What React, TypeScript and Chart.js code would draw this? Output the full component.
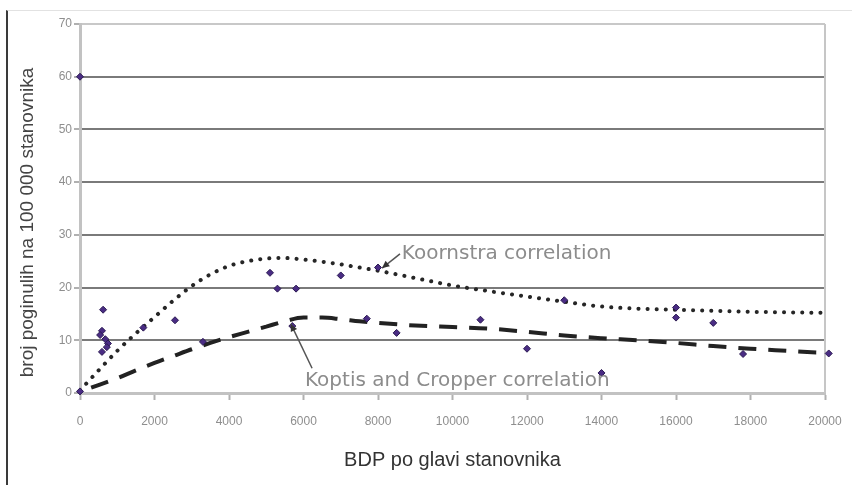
import { useEffect, useRef } from "react";
import { Chart, registerables } from "chart.js";

Chart.register(...registerables);

// ---- data ----
const xTicks = [0, 2000, 4000, 6000, 8000, 10000, 12000, 14000, 16000, 18000, 20000];
const yTicks = [0, 10, 20, 30, 40, 50, 60, 70];

const koornstraX = [0, 500, 1000, 1500, 2000, 2500, 3000, 3500, 4000, 4500, 5000, 5500, 6000, 6500, 7000, 7500, 8000, 9000, 10000, 11000, 12000, 13000, 14000, 15000, 16000, 17000, 18000, 19000, 20000];
const koornstraY = [0.5, 4.3, 8, 11.3, 14.4, 17.5, 20.3, 22.5, 24.1, 25, 25.5, 25.6, 25.3, 24.9, 24.4, 23.8, 23.2, 21.8, 20.4, 19.3, 18.3, 17.3, 16.4, 16, 15.8, 15.6, 15.4, 15.3, 15.2];

const kopitsX = [300, 1000, 1500, 2000, 2500, 3000, 3500, 4000, 4500, 5000, 5500, 6000, 6500, 7000, 7500, 8000, 9000, 10000, 11000, 12000, 13000, 14000, 15000, 16000, 17000, 18000, 19000, 20000];
const kopitsY = [1, 2.8, 4.3, 5.7, 7, 8.3, 9.5, 10.6, 11.6, 12.6, 13.6, 14.3, 14.3, 14, 13.6, 13.3, 12.8, 12.5, 12.2, 11.6, 10.9, 10.4, 10, 9.5, 8.9, 8.4, 8, 7.6];

const pointsX = [0, 0, 620, 590, 540, 680, 750, 720, 590, 1700, 2550, 3300, 5100, 5300, 5800, 5700, 7000, 7700, 8000, 8500, 10750, 12000, 13000, 14000, 16000, 16000, 17000, 17800, 20100];
const pointsY = [60, 0.3, 15.8, 11.8, 11, 10.2, 9.4, 8.7, 7.8, 12.4, 13.8, 9.7, 22.8, 19.8, 19.8, 12.7, 22.3, 14.1, 23.8, 11.4, 13.9, 8.4, 17.6, 3.8, 16.2, 14.3, 13.3, 7.4, 7.5];

const xTitle = "BDP po glavi stanovnika";
const yTitle = "broj poginulih na 100 000 stanovnika";
const koornstraLabel = "Koornstra correlation";
const kopitsLabel = "Koptis and Cropper correlation";

// annotation anchors in data units: [labelX, labelY, arrowFromX, arrowFromY, arrowToX, arrowToY]
const koornstraAnchor = [8640, 25.4, 8590, 26.4, 8110, 23.7];
const kopitsAnchor = [6040, 1.3, 6230, 4.7, 5660, 13.1];

const toXY = (xs: number[], ys: number[]) => xs.map((x, i) => ({ x, y: ys[i] }));

const annotationPlugin = {
  id: "annotations",
  beforeDatasetsDraw(chart: any) {
    const { ctx, chartArea } = chart;
    ctx.save();
    ctx.strokeStyle = "#c6c6c6";
    ctx.lineWidth = 2;
    ctx.beginPath();
    ctx.moveTo(chartArea.right, chartArea.top);
    ctx.lineTo(chartArea.right, chartArea.bottom);
    ctx.stroke();
    // y axis title
    ctx.translate(28, (chartArea.top + chartArea.bottom) / 2 + 14);
    ctx.rotate(-Math.PI / 2);
    ctx.font = '19px "Liberation Sans", Arial, sans-serif';
    ctx.fillStyle = "#444";
    ctx.textAlign = "center";
    ctx.textBaseline = "middle";
    ctx.fillText(yTitle, 0, 0);
    ctx.restore();
  },
  afterDatasetsDraw(chart: any) {
    const { ctx, scales } = chart;
    const sx = scales.x;
    const sy = scales.y;
    const draw = (anchor: number[], text: string) => {
      const lx = sx.getPixelForValue(anchor[0]);
      const ly = sy.getPixelForValue(anchor[1]);
      const fx = sx.getPixelForValue(anchor[2]);
      const fy = sy.getPixelForValue(anchor[3]);
      const tx = sx.getPixelForValue(anchor[4]);
      const ty = sy.getPixelForValue(anchor[5]);
      ctx.save();
      ctx.font = '20px "DejaVu Sans", sans-serif';
      ctx.fillStyle = "#8c8c8c";
      ctx.textAlign = "left";
      ctx.textBaseline = "alphabetic";
      ctx.fillText(text, lx, ly);
      ctx.strokeStyle = "#555";
      ctx.fillStyle = "#333";
      ctx.lineWidth = 1.5;
      ctx.beginPath();
      ctx.moveTo(fx, fy);
      ctx.lineTo(tx, ty);
      ctx.stroke();
      const ang = Math.atan2(ty - fy, tx - fx);
      const len = 8;
      ctx.beginPath();
      ctx.moveTo(tx, ty);
      ctx.lineTo(tx - len * Math.cos(ang - 0.45), ty - len * Math.sin(ang - 0.45));
      ctx.lineTo(tx - len * Math.cos(ang + 0.45), ty - len * Math.sin(ang + 0.45));
      ctx.closePath();
      ctx.fill();
      ctx.restore();
    };
    draw(koornstraAnchor, koornstraLabel);
    draw(kopitsAnchor, kopitsLabel);
  },
};

export default function App() {
  const ref = useRef<HTMLCanvasElement | null>(null);

  useEffect(() => {
    document.body.style.margin = "0";
    const canvas = ref.current;
    if (!canvas) return;
    const tickFont = { family: '"Liberation Sans Narrow", "Liberation Sans", Arial, sans-serif', size: 12 };
    const chart = new Chart(canvas, {
      type: "scatter",
      data: {
        datasets: [
          {
            label: "data",
            data: toXY(pointsX, pointsY),
            pointStyle: "rectRot",
            pointRadius: 3.5,
            backgroundColor: "#4a2c84",
            borderColor: "#2b1a52",
            borderWidth: 1,
            showLine: false,
            clip: false,
          } as any,
          {
            label: "Koornstra",
            data: toXY(koornstraX, koornstraY),
            showLine: true,
            pointRadius: 0,
            borderColor: "#262626",
            borderWidth: 4,
            borderDash: [0.1, 9],
            borderCapStyle: "round",
            cubicInterpolationMode: "monotone",
            fill: false,
          } as any,
          {
            label: "Kopits",
            data: toXY(kopitsX, kopitsY),
            showLine: true,
            pointRadius: 0,
            borderColor: "#222",
            borderWidth: 4,
            borderDash: [18, 12],
            cubicInterpolationMode: "monotone",
            fill: false,
          } as any,
        ],
      },
      options: {
        animation: false,
        responsive: false,
        maintainAspectRatio: false,
        layout: { padding: { left: 0, top: 24, right: 27, bottom: 13 } },
        plugins: { legend: { display: false }, tooltip: { enabled: false } },
        scales: {
          x: {
            type: "linear",
            min: 0,
            max: 20000,
            afterBuildTicks: (s: any) => {
              s.ticks = xTicks.map((v) => ({ value: v }));
            },
            afterFit: (s: any) => {
              s.height = 79;
              s.paddingLeft = 0;
              s.paddingRight = 0;
            },
            ticks: { font: tickFont, color: "#8e8e8e", padding: 14, maxRotation: 0, autoSkip: false, callback: (v: any) => String(v) },
            grid: { drawOnChartArea: false, drawTicks: true, tickLength: 7, tickColor: "#b0b0b0", tickWidth: 2 },
            border: { color: "#c2c2c2", width: 3 },
            title: { display: true, text: xTitle, color: "#333", font: { family: '"Liberation Sans", Arial, sans-serif', size: 20 }, padding: { top: 0, bottom: 0 } },
          },
          y: {
            type: "linear",
            min: 0,
            max: 70,
            afterBuildTicks: (s: any) => {
              s.ticks = yTicks.map((v) => ({ value: v }));
            },
            afterFit: (s: any) => {
              s.width = 80;
              s.paddingTop = 0;
              s.paddingBottom = 0;
            },
            ticks: { font: tickFont, color: "#8e8e8e", padding: 2, callback: (v: any) => String(v) },
            grid: {
              drawOnChartArea: true,
              color: (c: any) => (c.tick && c.tick.value === 70 ? "#c8c8c8" : "#7a7a7a"),
              lineWidth: 2,
              tickLength: 6,
              tickColor: "#b0b0b0",
            },
            border: { color: "#c2c2c2", width: 3 },
            title: { display: false },
          },
        },
      } as any,
      plugins: [annotationPlugin],
    });
    return () => chart.destroy();
  }, []);

  return (
    <div style={{ position: "relative", width: 852, height: 485, background: "#fff" }}>
      <canvas ref={ref} width={852} height={485} style={{ position: "absolute", left: 0, top: 0, width: 852, height: 485 }} />
      <div style={{ position: "absolute", left: 6, top: 10, width: 846, height: 475, borderLeft: "2px solid #3a3a3a", borderTop: "1px solid #e2e2e2", pointerEvents: "none" }} />
    </div>
  );
}
